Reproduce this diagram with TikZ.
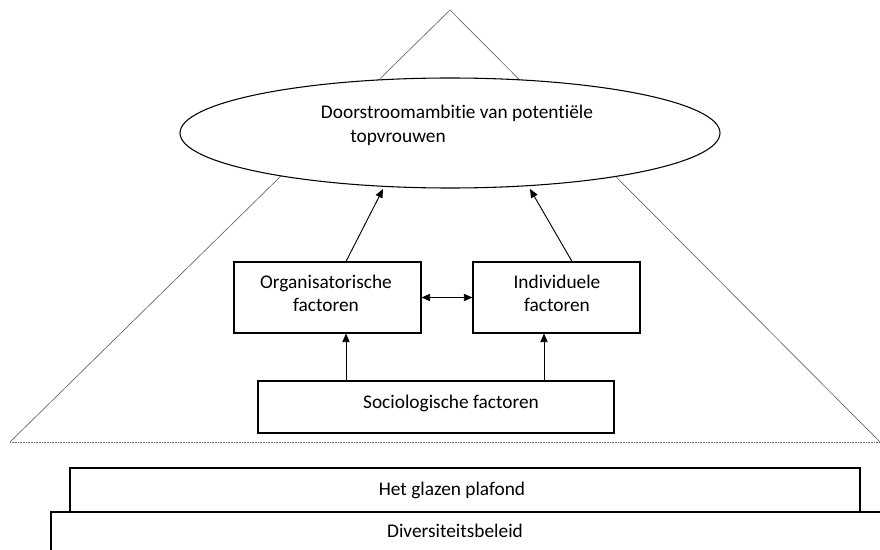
\documentclass[tikz,border=0pt]{standalone}
\usepackage{fontspec}
\setmainfont{Carlito}[Ligatures=NoCommon]
\usetikzlibrary{arrows.meta,shapes.geometric}
\begin{document}
\begin{tikzpicture}[x=0.75pt,y=-0.75pt,
  txt/.style={font=\fontsize{14.5}{17.5}\selectfont, inner sep=0pt, align=center},
  box/.style={draw, line width=0.8pt, rectangle, inner sep=0pt},
  side/.style={draw=black!60, line width=0.5pt},
  conn/.style={line width=0.7pt, -{Triangle[length=6.5pt,width=5.5pt]}},
  both/.style={line width=0.7pt, {Triangle[length=6.5pt,width=5.5pt]}-{Triangle[length=6.5pt,width=5.5pt]}}]
\useasboundingbox (0,0) rectangle (880,549);
\clip (0,0) rectangle (880,549);

% pyramid outline
\coordinate (apex) at (450,10);
\coordinate (bl) at (10,442);
\coordinate (br) at (880,442);
\draw[side] (bl) -- (apex) -- (br);
\draw[black!60, line width=0.6pt, dash pattern=on 0.6pt off 0.6pt] (bl) -- (br);

% ambition ellipse
\node[ellipse, draw, line width=0.8pt, fill=white, minimum width=405pt, minimum height=82.5pt, inner sep=0pt] (amb) at (450,133) {};
\node[txt] (ambt1) at (457,113) {Doorstroomambitie van potentiële};
\node[txt] (ambt2) at (398,138) {topvrouwen};

% factor boxes
\node[box, minimum width=140.25pt, minimum height=53.25pt] (org) at (327.5,297.5) {};
\node[txt] (orgt) at (326,293.5) {Organisatorische\\factoren};
\node[box, minimum width=125.25pt, minimum height=53.25pt] (ind) at (556.5,297.5) {};
\node[txt] (indt) at (557,293.5) {Individuele\\factoren};
\node[box, minimum width=267pt, minimum height=39pt] (soc) at (436,407) {};
\node[txt] (soct) at (451,403) {Sociologische factoren};

% arrows into the ellipse
\coordinate (orgtip) at (383,189);
\coordinate (indtip) at (530,189);
\coordinate (orgx) at (346,0);
\coordinate (indx) at (572,0);
\coordinate (soco) at (346,0);
\coordinate (soci) at (544,0);
\draw[conn] (org.north -| orgx) -- (orgtip);
\draw[conn] (ind.north -| indx) -- (indtip);
\draw[both] (org.east) -- (ind.west);
\draw[conn] (soc.north -| soco) -- (org.south -| soco);
\draw[conn] (soc.north -| soci) -- (ind.south -| soci);

% base layers
\node[box, minimum width=592.5pt, minimum height=33pt, fill=white] (plaf) at (465,490) {};
\node[txt] (plaft) at (452,490) {Het glazen plafond};
\node[box, minimum width=652.5pt, minimum height=45pt, fill=white] (div) at (486,542) {};
\node[txt] (divt) at (455,531) {Diversiteitsbeleid};
\end{tikzpicture}
\end{document}
